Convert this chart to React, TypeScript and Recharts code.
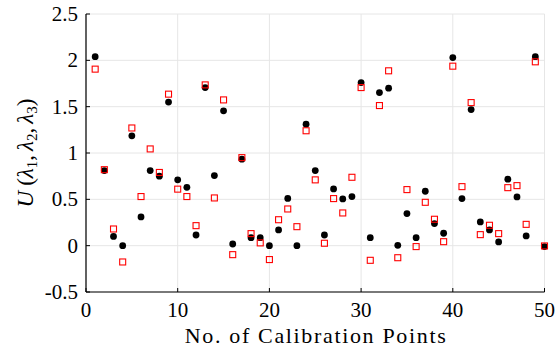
import React from 'react';
import { ScatterChart, Scatter, XAxis, YAxis, CartesianGrid } from 'recharts';

// Calibration point index (x axis)
const pointNumbers = [
  1, 2, 3, 4, 5, 6, 7, 8, 9, 10,
  11, 12, 13, 14, 15, 16, 17, 18, 19, 20,
  21, 22, 23, 24, 25, 26, 27, 28, 29, 30,
  31, 32, 33, 34, 35, 36, 37, 38, 39, 40,
  41, 42, 43, 44, 45, 46, 47, 48, 49, 50,
];

// U(λ1, λ2, λ3) — black filled circles
const uBlack = [
  2.04, 0.81, 0.10, 0.00, 1.185, 0.31, 0.81, 0.75, 1.55, 0.71,
  0.63, 0.115, 1.706, 0.756, 1.455, 0.018, 0.933, 0.086, 0.086, 0.0,
  0.17, 0.51, 0.0, 1.31, 0.81, 0.115, 0.612, 0.504, 0.53, 1.76,
  0.086, 1.652, 1.70, 0.004, 0.346, 0.086, 0.587, 0.238, 0.134, 2.03,
  0.508, 1.469, 0.256, 0.17, 0.04, 0.717, 0.526, 0.105, 2.04, -0.01,
];

// U(λ1, λ2, λ3) — red open squares
const uRed = [
  1.905, 0.82, 0.18, -0.176, 1.27, 0.53, 1.044, 0.79, 1.635, 0.61,
  0.53, 0.216, 1.735, 0.515, 1.573, -0.097, 0.95, 0.13, 0.03, -0.15,
  0.28, 0.396, 0.205, 1.24, 0.71, 0.026, 0.508, 0.353, 0.738, 1.706,
  -0.158, 1.512, 1.887, -0.13, 0.605, -0.01, 0.468, 0.285, 0.043, 1.937,
  0.637, 1.544, 0.119, 0.22, 0.13, 0.626, 0.648, 0.23, 1.984, -0.003,
];

const xTicks = [0, 10, 20, 30, 40, 50];
const yTicks = [-0.5, 0, 0.5, 1, 1.5, 2, 2.5];

const FONT = '"Liberation Serif", "Times New Roman", serif';

const blackData = pointNumbers.map((n, i) => ({ n, u: uBlack[i] }));
const redData = pointNumbers.map((n, i) => ({ n, u: uRed[i] }));

const XTick = (props: any) => {
  const { x, y, payload } = props;
  return (
    <g>
      <line x1={x} y1={y} x2={x} y2={y - 4} stroke="#000" strokeWidth={1} />
      <text x={x} y={y + 25} textAnchor="middle" fontFamily={FONT} fontSize={21} fill="#000">
        {String(payload.value)}
      </text>
    </g>
  );
};

const YTick = (props: any) => {
  const { x, y, payload } = props;
  return (
    <g>
      <line x1={x} y1={y} x2={x + 4} y2={y} stroke="#000" strokeWidth={1} />
      <text x={x - 8} y={y + 7} textAnchor="end" fontFamily={FONT} fontSize={21} fill="#000">
        {String(payload.value)}
      </text>
    </g>
  );
};

const XTitle = (props: any) => {
  const vb = props.viewBox;
  return (
    <text
      x={vb.x + vb.width / 2}
      y={vb.y + 51}
      textAnchor="middle"
      fontFamily={FONT}
      fontSize={22}
      fill="#000"
      textLength={261}
      lengthAdjust="spacing"
    >
      No. of Calibration Points
    </text>
  );
};

const YTitle = (props: any) => {
  const vb = props.viewBox;
  const cy = vb.y + vb.height / 2;
  const sub = 15;
  return (
    <text
      transform={`translate(33, ${cy}) rotate(-90)`}
      textAnchor="middle"
      fontFamily={FONT}
      fontSize={23}
      fill="#000"
    >
      <tspan fontStyle="italic">U</tspan>
      <tspan dx={5}>(</tspan>
      <tspan fontStyle="italic">λ</tspan>
      <tspan fontSize={sub} dy={4}>1</tspan>
      <tspan dy={-4}>,</tspan>
      <tspan dx={4} fontStyle="italic">λ</tspan>
      <tspan fontSize={sub} dy={4}>2</tspan>
      <tspan dy={-4}>,</tspan>
      <tspan dx={4} fontStyle="italic">λ</tspan>
      <tspan fontSize={sub} dy={4}>3</tspan>
      <tspan dy={-4}>)</tspan>
    </text>
  );
};

const Dot = (p: any) => <circle cx={p.cx} cy={p.cy} r={3.4} fill="#000" />;
const OpenSquare = (p: any) => (
  <rect x={p.cx - 3} y={p.cy - 3} width={6} height={6} fill="none" stroke="#ff0000" strokeWidth={1.1} />
);

export default function App() {
  return (
    <div style={{ position: 'fixed', left: 0, top: 0, background: '#fff' }}>
      <ScatterChart width={556} height={357} margin={{ top: 14, right: 11.5, bottom: 0, left: 0 }}>
        <CartesianGrid stroke="#e6e6e6" strokeWidth={1} />
        <XAxis
          type="number"
          dataKey="n"
          domain={[0, 50]}
          ticks={xTicks}
          interval={0}
          height={65}
          tickSize={0}
          tickMargin={0}
          tickLine={false}
          tick={<XTick />}
          axisLine={{ stroke: '#000', strokeWidth: 1.2 }}
          label={{ content: (p: any) => <XTitle {...p} /> }}
        />
        <YAxis
          type="number"
          dataKey="u"
          domain={[-0.5, 2.5]}
          ticks={yTicks}
          interval={0}
          width={86}
          tickSize={0}
          tickMargin={0}
          tickLine={false}
          tick={<YTick />}
          axisLine={{ stroke: '#000', strokeWidth: 1.2 }}
          label={{ content: (p: any) => <YTitle {...p} /> }}
        />
        <Scatter data={blackData} fill="#000" shape={Dot} isAnimationActive={false} />
        <Scatter data={redData} fill="#ff0000" shape={OpenSquare} isAnimationActive={false} />
      </ScatterChart>
    </div>
  );
}
